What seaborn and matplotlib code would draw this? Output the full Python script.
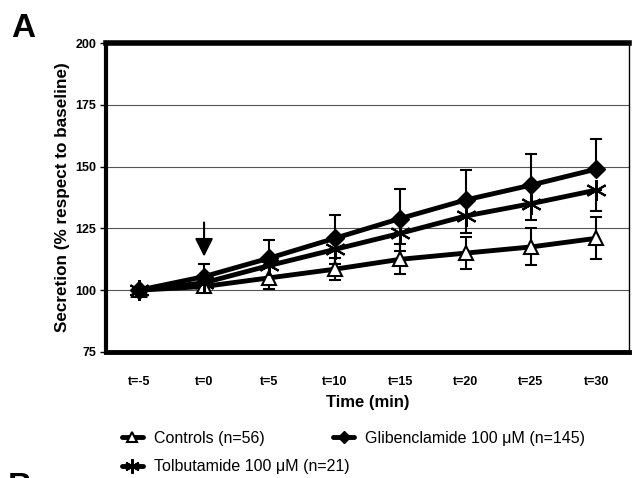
import matplotlib
matplotlib.use("Agg")
import matplotlib.pyplot as plt
import seaborn as sns
import numpy as np
import pandas as pd

times = ["t=-5", "t=0", "t=5", "t=10", "t=15", "t=20", "t=25", "t=30"]
controls = [100, 101.5, 105, 108.5, 112.5, 115, 117.5, 121]
controls_err = [1, 2, 4.5, 4.5, 6, 6.5, 7.5, 8.5]
gliben = [100, 105.5, 113, 121, 129, 136.5, 142.5, 149]
gliben_err = [1, 5, 7.5, 9.5, 12, 12.2, 12.5, 12]
tolbut = [100, 103, 110, 116.5, 123, 130, 135, 140.5]
tolbut_err = [1, 2, 5, 6, 7, 7, 6.5, 8.5]
labels = ["Controls (n=56)", "Tolbutamide 100 \u03bcM (n=21)", "Glibenclamide 100 \u03bcM (n=145)"]

sns.set_style("white")
plt.rcParams['font.family'] = ['Liberation Sans', 'DejaVu Sans']
for k in ['text.color', 'axes.labelcolor', 'xtick.color', 'ytick.color']:
    plt.rcParams[k] = 'black'
narrow = ['Liberation Sans Narrow', 'Liberation Sans', 'DejaVu Sans']

fig = plt.figure(figsize=(6.34, 4.78), dpi=100)
ax = fig.add_axes([106/634, 1-352/478, (629-106)/634, (352-43)/478])

xi = np.arange(len(times))
df = pd.DataFrame({
    "x": np.tile(xi, 3),
    "y": controls + tolbut + gliben,
    "group": np.repeat(labels, len(times)),
})

# error bars
ax.errorbar(xi, controls, yerr=[controls_err, controls_err], fmt='none', ecolor='black',
            elinewidth=1.5, capsize=4.5, capthick=1.5, zorder=2)
ax.errorbar(xi, gliben, yerr=[np.zeros(len(xi)), gliben_err], fmt='none', ecolor='black',
            elinewidth=1.5, capsize=4.5, capthick=1.5, zorder=2)
ax.errorbar(xi, tolbut, yerr=[tolbut_err, np.zeros(len(xi))], fmt='none', ecolor='black',
            elinewidth=1.5, capsize=4.5, capthick=1.5, zorder=2)

marker_styles = {
    labels[0]: dict(marker='^', markersize=10, markerfacecolor='white', markeredgecolor='black', markeredgewidth=1.5),
    labels[1]: dict(marker=(6, 2, 0), markersize=15, markerfacecolor='black', markeredgecolor='black', markeredgewidth=1.5),
    labels[2]: dict(marker='D', markersize=9, markerfacecolor='black', markeredgecolor='black', markeredgewidth=1),
}
for lab, z in zip(labels, [3, 4, 5]):
    sub = df[df.group == lab]
    sns.lineplot(data=sub, x="x", y="y", ax=ax, color='black', linewidth=3.5,
                 label=lab, zorder=z, legend=False, **marker_styles[lab])

ax.set_xlim(-0.5, 7.5)
ax.set_ylim(75, 200)
ax.set_yticks([75, 100, 125, 150, 175, 200])
ax.set_xticks(xi)
ax.set_xticklabels(times, fontweight='bold', fontsize=9, family=narrow)
ax.set_yticklabels([str(v) for v in [75, 100, 125, 150, 175, 200]], fontweight='bold', fontsize=9, family=narrow)
ax.set_xticks(np.arange(-0.5, 8, 1), minor=True)
ax.tick_params(axis='x', which='major', length=0, pad=17)
ax.tick_params(axis='x', which='minor', length=4, width=1, direction='out', color='black')
ax.tick_params(axis='y', which='major', length=4, width=1, direction='out', color='black', pad=3, left=True)
ax.grid(True, axis='y', color='#555555', linewidth=0.8)
ax.grid(False, axis='x')

for side, lw in [('left', 3), ('top', 4), ('bottom', 3.5), ('right', 1)]:
    ax.spines[side].set_visible(True)
    ax.spines[side].set_linewidth(lw)
    ax.spines[side].set_color('black')

ax.set_xlabel("Time (min)", fontweight='bold', fontsize=12, labelpad=5)
ax.set_ylabel("Secretion (% respect to baseline)", fontweight='bold', fontsize=12.3, labelpad=4)

# arrow at t=0
ax.annotate("", xy=(1, 113.6), xytext=(1, 127.4),
            arrowprops=dict(arrowstyle='-|>,head_width=0.55,head_length=1.1', color='black',
                            lw=1.5, shrinkA=0, shrinkB=0))

handles, labs = ax.get_legend_handles_labels()
hmap = dict(zip(labs, handles))
leg_kw = dict(frameon=False, fontsize=11.5, handlelength=1.3, handletextpad=0.7,
              markerscale=0.7, borderpad=0, borderaxespad=0, labelcolor='black')
fig.legend([hmap[labels[0]], hmap[labels[2]]], [labels[0], labels[2]], loc='center left',
           bbox_to_anchor=(122/634, 1-438/478), ncol=2, columnspacing=4.3, **leg_kw)
fig.legend([hmap[labels[1]]], [labels[1]], loc='center left',
           bbox_to_anchor=(122/634, 1-467/478), **leg_kw)

fig.text(11/634, 1-37/478, "A", fontsize=24, fontweight='bold', ha='left', va='baseline', color='black')
fig.text(8/634, 1-496/478, "B", fontsize=24, fontweight='bold', ha='left', va='baseline', color='black')

fig.savefig("out.png", dpi=100)
